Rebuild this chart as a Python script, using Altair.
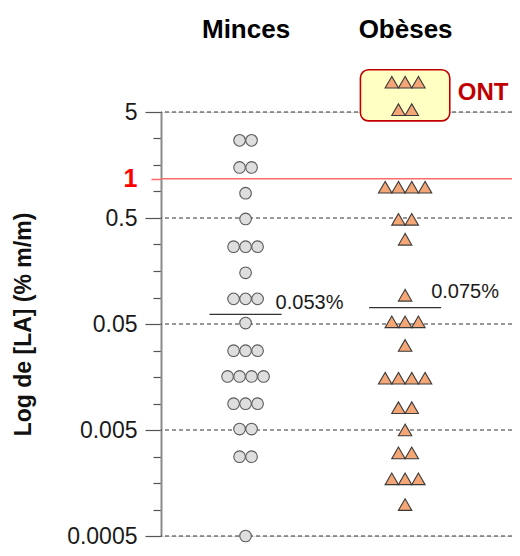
import altair as alt
import pandas as pd

# ---------------- data ----------------
groups = ["Minces", "Obèses"]

minces_levels = [2.70, 1.50, 0.857, 0.49, 0.268, 0.152, 0.0863, 0.051, 0.028, 0.016, 0.00885, 0.0051, 0.0028, 0.0005]
minces_counts = [2, 2, 1, 1, 3, 1, 3, 1, 3, 4, 3, 2, 2, 1]

obeses_levels = [9.55, 5.26, 0.976, 0.486, 0.315, 0.0933, 0.0524, 0.0314, 0.0154, 0.00812, 0.005, 0.00304, 0.00173, 0.00099]
obeses_counts = [3, 2, 4, 2, 1, 1, 3, 1, 4, 2, 1, 2, 3, 1]

median_values = [0.0615, 0.0713]
median_labels = ["0.053%", "0.075%"]

major_values = [5, 0.5, 0.05, 0.005, 0.0005]
tick_labels = ["5", "0.5", "0.05", "0.005", "0.0005"]
minor_per_decade = 4

ref_value = 1.17
ref_label = "1"

ont_label = "ONT"
ont_low = 4.12
ont_high = 12.5

y_title = "Log de [LA] (% m/m)"

# ---------------- tables ----------------
rows = []
for gi, (g, levels, counts) in enumerate([(groups[0], minces_levels, minces_counts),
                                          (groups[1], obeses_levels, obeses_counts)]):
    for v, n in zip(levels, counts):
        for k in range(n):
            rows.append({"group": g, "gi": gi, "value": v, "slot": k - (n - 1) / 2})
points_df = pd.DataFrame(rows)

med_df = pd.DataFrame({"group": groups, "gi": [0, 1], "median": median_values, "label": median_labels})
grid_df = pd.DataFrame({"value": major_values})
ref_df = pd.DataFrame({"value": [ref_value]})
ont_df = pd.DataFrame({"gi": [1], "low": [ont_low], "high": [ont_high], "label": [ont_label]})

tick_values = []
for i in range(len(major_values) - 1):
    for k in range(minor_per_decade):
        tick_values.append(major_values[i] * 10 ** (-k / minor_per_decade))
tick_values.append(major_values[-1])
tick_values.append(ref_value)

# ---------------- scales / axes ----------------
W, H = 351, 424
FONT = "Liberation Sans"
xscale = alt.Scale(domain=[-0.53, 1.67], nice=False, zero=False)
yscale = alt.Scale(type="log", domain=[major_values[-1], major_values[0]], nice=False)

test_ref = f"abs(datum.value - {ref_value}) < 0.001"
test_major = "abs(log(datum.value/5)/LN10 - round(log(datum.value/5)/LN10)) < 0.01"
label_map = " : ".join(
    f"abs(datum.value - {v}) < {v}*0.01 ? '{t}'" for v, t in zip(major_values, tick_labels)
) + " : ''"

yaxis = alt.Axis(
    values=tick_values,
    labelExpr=f"{test_ref} ? '{ref_label}' : ({label_map})",
    labelOverlap=False,
    labelFlush=False,
    labelFont=FONT,
    labelFontSize={"condition": {"test": test_ref, "value": 25}, "value": 23},
    labelColor={"condition": {"test": test_ref, "value": "#FF0000"}, "value": "#1a1a1a"},
    labelFontWeight={"condition": {"test": test_ref, "value": "bold"}, "value": "normal"},
    labelPadding={"condition": {"test": test_ref, "value": 14}, "value": 8},
    tickSize={"condition": [{"test": test_ref, "value": 10}, {"test": test_major, "value": 16}], "value": 8},
    tickColor={"condition": {"test": test_ref, "value": "#FF6B6B"}, "value": "#555555"},
    tickWidth={"condition": {"test": test_ref, "value": 1.5}, "value": 1.2},
    domainColor="#8a8a8a",
    domainWidth=2,
    grid=False,
    title=y_title,
    titleFont=FONT,
    titleFontSize=23,
    titleFontWeight="bold",
    titleColor="#111111",
    titlePadding=31,
)

header_expr = f"datum.value == 0 ? '{groups[0]}' : '{groups[1]}'"
xaxis = alt.Axis(
    orient="top",
    values=[0, 1],
    labelExpr=header_expr,
    domain=False,
    ticks=False,
    grid=False,
    labelFlush=False,
    labelFont=FONT,
    labelFontSize=26,
    labelFontWeight="bold",
    labelColor="#000000",
    labelBaseline="alphabetic",
    labelPadding=75,
    title=None,
)

# ---------------- layers ----------------
grid = alt.Chart(grid_df).mark_rule(color="#333333", strokeWidth=1, strokeDash=[4, 3]).encode(
    y=alt.Y("value:Q", scale=yscale, axis=yaxis, title=y_title)
)

ref_line = alt.Chart(ref_df).mark_rule(color="#FF6B6B", strokeWidth=1.5).encode(
    y=alt.Y("value:Q", scale=yscale, axis=yaxis, title=y_title)
)

ont_box = alt.Chart(ont_df).transform_calculate(
    x1="datum.gi - 0.28", x2="datum.gi + 0.28"
).mark_rect(fill="#FFFFC4", stroke="#C00000", strokeWidth=1.6, cornerRadius=8).encode(
    x=alt.X("x1:Q", scale=xscale, axis=xaxis),
    x2="x2:Q",
    y=alt.Y("high:Q", scale=yscale, axis=yaxis, title=y_title),
    y2="low:Q",
)

ont_text = alt.Chart(ont_df).transform_calculate(
    xt="datum.gi + 0.28", ym="sqrt(datum.low * datum.high)"
).mark_text(align="left", baseline="middle", dx=8, dy=-2, font=FONT, fontSize=24,
            fontWeight="bold", color="#C00000").encode(
    x=alt.X("xt:Q", scale=xscale, axis=xaxis),
    y=alt.Y("ym:Q", scale=yscale, axis=yaxis, title=y_title),
    text="label:N",
)

med_rule = alt.Chart(med_df).transform_calculate(
    x1="datum.gi - 0.226", x2="datum.gi + 0.226"
).mark_rule(color="#333333", strokeWidth=1.2).encode(
    x=alt.X("x1:Q", scale=xscale, axis=xaxis),
    x2="x2:Q",
    y=alt.Y("median:Q", scale=yscale, axis=yaxis, title=y_title),
)

med_texts = []
for g, ddx, ddy in [(groups[0], -6, -5), (groups[1], -10, -10)]:
    med_texts.append(
        alt.Chart(med_df).transform_filter(alt.datum.group == g).transform_calculate(
            xt="datum.gi + 0.226"
        ).mark_text(align="left", baseline="alphabetic", dx=ddx, dy=ddy, font=FONT,
                    fontSize=20, color="#1a1a1a").encode(
            x=alt.X("xt:Q", scale=xscale, axis=xaxis),
            y=alt.Y("median:Q", scale=yscale, axis=yaxis, title=y_title),
            text="label:N",
        )
    )

pts = alt.Chart(points_df).transform_calculate(
    xpos="datum.gi + datum.slot * (datum.gi == 0 ? 0.0752 : 0.0834)"
).mark_point(filled=True, opacity=1, strokeWidth=1.1).encode(
    x=alt.X("xpos:Q", scale=xscale, axis=xaxis),
    y=alt.Y("value:Q", scale=yscale, axis=yaxis, title=y_title),
    shape=alt.Shape("group:N", scale=alt.Scale(domain=groups, range=["circle", "triangle-up"]), legend=None),
    fill=alt.Fill("group:N", scale=alt.Scale(domain=groups, range=["#DEDEDE", "#F4A676"]), legend=None),
    stroke=alt.Stroke("group:N", scale=alt.Scale(domain=groups, range=["#5A5A5A", "#3A3A3A"]), legend=None),
    size=alt.Size("group:N", scale=alt.Scale(domain=groups, range=[135, 180]), legend=None),
)

chart = alt.layer(grid, ref_line, ont_box, med_rule, *med_texts, pts, ont_text).properties(
    width=W,
    height=H,
    padding={"left": 153, "top": 104, "right": 0, "bottom": 12},
    autosize=alt.AutoSizeParams(type="none"),
    background="white",
).configure_view(strokeWidth=0).configure(font=FONT)

chart.save("out.html", embed_options={"renderer": "svg", "actions": False})
